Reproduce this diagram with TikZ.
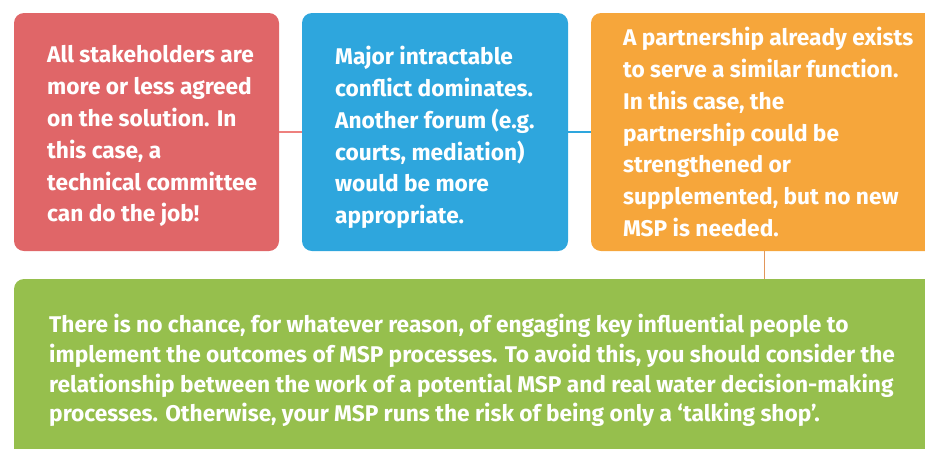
\documentclass[tikz,border=0pt]{standalone}
\usepackage{fontspec}
\setmainfont{Fira Sans}
\definecolor{cardred}{RGB}{224,102,104}
\definecolor{cardblue}{RGB}{46,166,221}
\definecolor{cardorange}{RGB}{246,166,59}
\definecolor{cardgreen}{RGB}{150,191,77}
\definecolor{linkred}{RGB}{238,128,126}
\definecolor{linkorange}{RGB}{226,150,90}
\tikzstyle{card}=[rounded corners=10pt, inner sep=0pt, minimum height=238pt]
\tikzstyle{cardtext}=[anchor=north west, inner sep=0pt, align=left, text=white, font=\bfseries\fontsize{22.7}{31.8}\selectfont]
\tikzstyle{widetext}=[cardtext, font=\bfseries\fontsize{22.7}{29.7}\selectfont]
\tikzstyle{link}=[line width=1.2pt]

\begin{document}
\begin{tikzpicture}[x=1pt, y=-1pt]
        \clip (0,0) rectangle (925,448);
        \node[card, fill=cardred, minimum width=265pt] (agreed) at (146.5,132) {};
        \node[card, fill=cardblue, minimum width=266pt] (conflict) at (435,132) {};
        \node[card, fill=cardorange, minimum width=369pt] (existing) at (775.5,132) {};
        \node[card, fill=cardgreen, minimum width=946pt, minimum height=201pt] (nochance) at (487,379.5) {};
        \node[cardtext] (agreedtxt) at (47,45.5) {All stakeholders are\\more or less agreed\\on the solution. In\\this case, a\\technical committee\\can do the job!};
        \node[cardtext] (conflicttxt) at (335,46) {Major intractable\\conflict dominates.\\Another forum (e.g.\\courts, mediation)\\would be more\\appropriate.};
        \node[cardtext] (existingtxt) at (623,27) {A partnership already exists\\to serve a similar function.\\In this case, the\\partnership could be\\strengthened or\\supplemented, but no new\\MSP is needed.};
        \node[widetext] (nochancetxt) at (49,314) {There is no chance, for whatever reason, of engaging key influential people to\\implement the outcomes of MSP processes. To avoid this, you should consider the\\relationship between the work of a potential MSP and real water decision-making\\processes. Otherwise, your MSP runs the risk of being only a ‘talking shop’.};
        \coordinate (tap) at ([xshift=174pt]existing.south west);
        \draw[link, linkred] (agreed) -- (conflict);
        \draw[link, cardblue] (conflict) -- (existing);
        \draw[link, linkorange] (tap) -- (tap |- nochance.north);
    \end{tikzpicture}
\end{document}
